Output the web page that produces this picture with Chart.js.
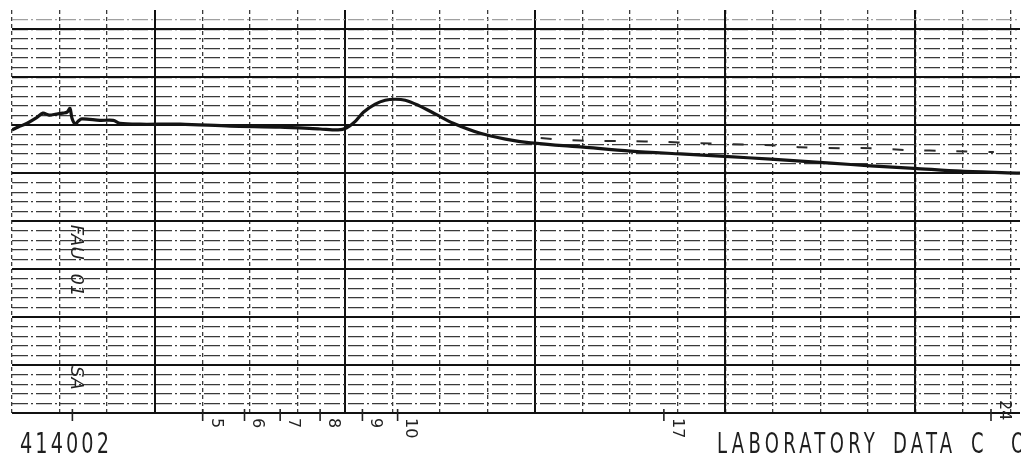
<!DOCTYPE html>
<html>
<head>
<meta charset="utf-8">
<script src="https://cdn.jsdelivr.net/npm/chart.js@4.4.1/dist/chart.umd.min.js"></script>
<style>
  html, body { margin: 0; padding: 0; background: #fff; }
  canvas { display: block; }
</style>
</head>
<body>
<canvas id="strip" width="1021" height="455"></canvas>
<script>
// pen trace, x in chart divisions, y in percent of full scale
const traceX = [0, 0.13, 0.32, 0.51, 0.65, 0.78, 0.93, 1.07, 1.16, 1.22, 1.26, 1.33, 1.39, 1.47,
  1.85, 2.13, 2.27, 2.69, 3.54, 4.59, 5.64, 6.48, 6.86, 7.03, 7.22, 7.39, 7.64, 7.85, 8.06,
  8.27, 8.53, 8.91, 9.28, 9.85, 10.38, 10.91, 12.02, 13.01, 14.06, 14.99, 15.96, 17.22,
  18.06, 18.97, 19.96, 21.2];
const traceY = [59.0, 59.6, 60.4, 61.5, 62.5, 62.1, 62.3, 62.5, 62.7, 63.5, 61.5, 60.2, 60.8, 61.3,
  61.0, 61.0, 60.4, 60.2, 60.2, 59.8, 59.6, 59.2, 59.0, 59.4, 60.8, 62.7, 64.4, 65.2, 65.4,
  65.2, 64.2, 62.3, 60.4, 58.3, 57.1, 56.3, 55.4, 54.6, 54.0, 53.5, 52.9, 52.1,
  51.5, 51.0, 50.4, 50.0];

// second pen, broken trace
const refX = [11.12, 11.6, 12.27, 12.9, 13.71, 14.34, 16.0, 16.59, 17.43, 18.13, 18.84, 19.75, 20.65];
const refY = [57.3, 56.9, 56.7, 56.7, 56.5, 56.25, 55.8, 55.4, 55.2, 55.2, 54.8, 54.6, 54.4];

// event marks along the lower edge
const eventX = [1.27, 4.01, 4.89, 5.64, 6.48, 7.37, 8.11, 13.71, 20.59];
const eventLabels = ['', '5', '6', '7', '8', '9', '10', '17', '24'];

// pencil notes next to the first mark
const noteY = [35.6, 26.7, 7.3];
const noteText = ['FAU', '01', 'SA'];

const majorX = [3, 7, 11, 15, 19];
const majorY = [0, 10, 20, 30, 40, 50, 60, 70, 80];

// draw text squeezed horizontally by sx
function narrowText(ctx, text, x, y, sx) {
  ctx.save();
  ctx.translate(x, y);
  ctx.scale(sx, 1);
  ctx.fillText(text, 0, 0);
  ctx.restore();
}

const paper = {
  id: 'paper',
  beforeDraw(chart) {
    const ctx = chart.ctx;
    ctx.save();
    ctx.fillStyle = '#ffffff';
    ctx.fillRect(0, 0, chart.width, chart.height);
    ctx.restore();
  },
  afterDraw(chart) {
    const ctx = chart.ctx;
    const xs = chart.scales.x, ys = chart.scales.y;
    const base = chart.chartArea.bottom;
    ctx.save();
    ctx.strokeStyle = '#222';
    ctx.fillStyle = '#222';
    ctx.lineWidth = 1.6;

    eventX.forEach((v, i) => {
      const px = xs.getPixelForValue(v);
      ctx.beginPath();
      ctx.moveTo(px, base - 4);
      ctx.lineTo(px, base + 8);
      ctx.stroke();
      if (!eventLabels[i]) return;
      const lift = i === eventX.length - 1 ? 18 : 0;
      ctx.save();
      ctx.translate(px + 13, base + 5 - lift);
      ctx.rotate(Math.PI / 2);
      ctx.font = '16px "DejaVu Sans"';
      ctx.textAlign = 'left';
      ctx.textBaseline = 'middle';
      ctx.fillText(eventLabels[i], 0, 0);
      ctx.restore();
    });

    // pencil notes
    const nx = xs.getPixelForValue(eventX[0]) + 3;
    noteText.forEach((t, i) => {
      ctx.save();
      ctx.translate(nx, ys.getPixelForValue(noteY[i]));
      ctx.rotate(Math.PI / 2);
      ctx.font = 'italic 18px "DejaVu Sans"';
      ctx.textAlign = 'center';
      ctx.textBaseline = 'middle';
      ctx.fillText(t, 0, 0);
      ctx.restore();
    });

    // printed paper captions
    ctx.fillStyle = '#1e1e1e';
    ctx.font = '28px "DejaVu Sans Condensed"';
    ctx.textBaseline = 'alphabetic';
    ctx.textAlign = 'left';
    ctx.letterSpacing = '4px';
    narrowText(ctx, '414002', 20, 453, 92 / ctx.measureText('414002').width);
    ctx.letterSpacing = '6px';
    const sx = 162 / ctx.measureText('LABORATORY').width;
    narrowText(ctx, 'LABORATORY', 717, 453, sx);
    narrowText(ctx, 'DATA', 893, 453, sx);
    narrowText(ctx, 'C', 971, 453, sx);
    narrowText(ctx, 'O', 1011, 453, sx);
    ctx.restore();
  }
};

const hidden = { display: false };

new Chart(document.getElementById('strip'), {
  type: 'line',
  data: {
    datasets: [
      {
        data: traceX.map((x, i) => ({ x, y: traceY[i] })),
        borderColor: '#141414',
        borderWidth: 3.2,
        pointRadius: 0,
        tension: 0.3,
        xAxisID: 'x',
        yAxisID: 'y'
      },
      {
        data: refX.map((x, i) => ({ x, y: refY[i] })),
        borderColor: '#2a2a2a',
        borderWidth: 2,
        borderDash: [11, 21],
        pointRadius: 0,
        tension: 0.2,
        xAxisID: 'x',
        yAxisID: 'y'
      }
    ]
  },
  options: {
    responsive: false,
    devicePixelRatio: 1,
    animation: false,
    layout: { padding: { left: 12, right: 1, top: 10, bottom: 42 } },
    plugins: { legend: hidden, tooltip: { enabled: false } },
    scales: {
      x: {
        type: 'linear',
        min: 0,
        max: 21.2,
        ticks: { display: false, stepSize: 1, includeBounds: false },
        grid: { color: '#3a3a3a', lineWidth: 1.3, drawTicks: false },
        border: { display: false, dash: [4, 3] }
      },
      xMajor: {
        type: 'linear',
        position: 'bottom',
        min: 0,
        max: 21.2,
        afterBuildTicks: (s) => { s.ticks = majorX.map(v => ({ value: v })); },
        ticks: { display: false },
        grid: { color: '#111', lineWidth: 2, drawTicks: false },
        border: { display: false }
      },
      y: {
        type: 'linear',
        min: 0,
        max: 84,
        ticks: { display: false, stepSize: 2 },
        grid: {
          color: (c) => c.tick.value > 83 ? 'rgba(0,0,0,0)' : (c.tick.value > 80 ? '#a0a0a0' : '#3a3a3a'),
          lineWidth: 1.3,
          drawTicks: false
        },
        border: { display: false, dash: [16, 3, 2, 3] }
      },
      yMajor: {
        type: 'linear',
        position: 'left',
        min: 0,
        max: 84,
        afterBuildTicks: (s) => { s.ticks = majorY.map(v => ({ value: v })); },
        ticks: { display: false },
        grid: { color: '#111', lineWidth: 2, drawTicks: false },
        border: { display: false }
      }
    }
  },
  plugins: [paper]
});
</script>
</body>
</html>
